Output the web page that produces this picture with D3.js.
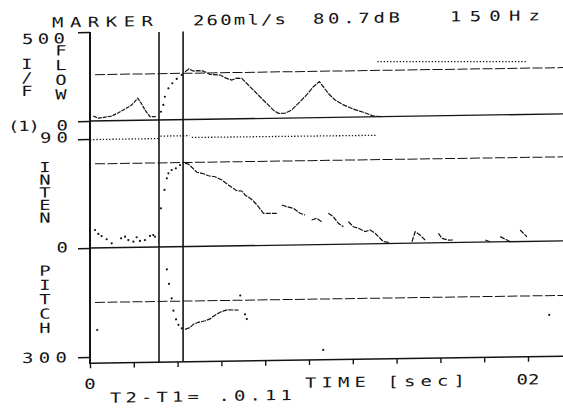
<!DOCTYPE html>
<html>
<head>
<meta charset="utf-8">
<script src="https://cdn.jsdelivr.net/npm/d3@7"></script>
<style>
body { margin: 0; background: #fff; }
</style>
</head>
<body>
<div class="chart"></div>
<script>
// readouts printed across the top
var headerText = ["MARKER", "260ml/s", "80.7dB", "150Hz"];
var panelNames = ["I/F", "FLOW", "INTEN", "PITCH"];

// time axis (seconds)
var timeTicks = [0, 0.02, 0.04, 0.06, 0.08, 0.1, 0.12, 0.14, 0.16, 0.18, 0.2];
var timeLabelAt = [0, 0.2];
var timeLabels = ["0", "02"];
var markers = [0.0315, 0.0425];
var markerNote = "T2-T1= .0.11";
var timeTitle = "TIME [sec]";

// reference levels
var refFlow = 260;
var refInten = 69.4;
var refPitch = 150;

// FLOW (ml/s)
var flowPreT = [0.0015, 0.0038, 0.0068, 0.0099, 0.0128, 0.0160, 0.0190, 0.0218, 0.0236, 0.0251, 0.0274, 0.0305];
var flowPreV = [28, 15, 20, 26, 43, 65, 86, 124, 91, 57, 19, 19];
var flowRiseT = [0.0324, 0.0335, 0.0342, 0.0358, 0.0376, 0.0396, 0.0419];
var flowRiseV = [46, 84, 130, 177, 205, 229, 251];
var flowT = [0.0434, 0.0452, 0.0472, 0.0494, 0.0517, 0.0548, 0.0594, 0.0624, 0.0647, 0.0670, 0.0693, 0.0715,
             0.0746, 0.0776, 0.0807, 0.0837, 0.0860, 0.0890, 0.0921, 0.0959, 0.0989, 0.1020, 0.1047, 0.1065,
             0.1088, 0.1119, 0.1157, 0.1202, 0.1248, 0.1294, 0.1330];
var flowV = [269, 284, 272, 274, 271, 252, 247, 228, 218, 228, 227, 199,
             160, 122, 84, 46, 27, 27, 45, 91, 128, 174, 202, 173,
             135, 97, 69, 45, 26, 4, 0];
var flowDotT = [0.1312, 0.1997];
var flowDotV = [309, 297];

// INTENSITY (dB)
var intenPreT = [0.0023, 0.0038, 0.0053, 0.0076, 0.0099, 0.0142, 0.0160, 0.0175, 0.0198, 0.0213, 0.0228, 0.0251, 0.0274, 0.0289, 0.0297];
var intenPreV = [14.8, 11.5, 9.7, 7.0, 3.6, 7.6, 8.9, 6.1, 4.7, 8.3, 5.2, 5.9, 9.2, 9.9, 8.5];
var intenRiseT = [0.0324, 0.0340, 0.0351, 0.0358, 0.0373, 0.0392, 0.0411];
var intenRiseV = [31.9, 47, 56.6, 60.7, 63.4, 64.7, 67.4];
var intenT = [0.0434, 0.0449, 0.0465, 0.0488, 0.0511, 0.0541, 0.0571, 0.0602, 0.0632, 0.0670, 0.0693, 0.0708,
              0.0731, 0.0746, 0.0769, 0.0792, 0.0853, 0.0865,
              0.0876, 0.0898, 0.0929, 0.0959, 0.0982, 0.0997,
              0.1012, 0.1035, 0.1058, 0.1073,
              0.1088, 0.1111, 0.1134, 0.1157, 0.1168,
              0.1180, 0.1202, 0.1225, 0.1256, 0.1279, 0.1302, 0.1317, 0.1340, 0.1370, 0.1420,
              0.1470, 0.1485, 0.1507, 0.1530, 0.1560,
              0.1591, 0.1607, 0.1637, 0.1660, 0.1730,
              0.1805, 0.1827, 0.1850,
              0.1873, 0.1904, 0.1919, 0.1940,
              0.1964, 0.1995];
var intenV = [68.8, 68.1, 65.4, 61.2, 60.3, 58.2, 57.3, 54.5, 50.3, 45.5, 45.2, 41.9,
              39.1, 36.8, 32, 26.5, 26.3, null,
              33.1, 31.7, 30.3, 26.1, 24.6, null,
              20.4, 21.7, 18.8, null,
              25.7, 22.8, 17.3, 14.5, null,
              18.5, 14.3, 13, 10.1, 11.4, 8.6, 5.8, 1.6, 0.7, null,
              1.2, 9.4, 6.6, 2.5, null,
              7.8, 3.6, 2.1, 2.1, null,
              1.7, 0.2, null,
              4.3, 1.4, 0, null,
              9.5, 3.9];
var inten90T = [0, 0.0313, 0.0318, 0.0322, 0.0455, 0.0460, 0.0465, 0.1305];
var inten90V = [89.5, 89.5, null, 91.5, 91.5, null, 90, 89.5];

// PITCH (Hz)
var pitchStrayT = [0.0033, 0.1065, 0.2097];
var pitchStrayV = [226, 290, 203];
var pitchFallT = [0.0351, 0.0361, 0.0373, 0.0381, 0.0393, 0.0404, 0.0419];
var pitchFallV = [62, 102, 142, 176, 200, 215, 225];
var pitchT = [0.0434, 0.0457, 0.0472, 0.0495, 0.0526, 0.0548, 0.0571, 0.0594, 0.0625, 0.0678];
var pitchV = [228, 223, 214, 209, 205, 200, 190, 182, 176, 177];
var pitchTailT = [0.0686, 0.0708, 0.0716];
var pitchTailV = [137, 189, 202];

var ink = "#141414";
var font = "'DejaVu Sans Mono', monospace";
var stretch = 1.35;

var svg = d3.select(".chart")
    .append("svg")
    .attr("width", 563)
    .attr("height", 408)
    .style("background", "#fff")

// the paper ran through the printer a little crooked
var g = svg.append("g")
    .attr("transform", "translate(90,0) skewY(-0.86) translate(-90,0)")

var x = d3.scaleLinear().domain([0, 0.2]).range([90, 528]);
var yFlow = d3.scaleLinear().domain([0, 500]).range([121, 32]);
var yInten = d3.scaleLinear().domain([0, 90]).range([248, 139]);
var yPitch = d3.scaleLinear().domain([0, 300]).range([248, 357]);

function hline(y, x1, x2, dash, w) {
    g.append("line")
        .attr("x1", x1).attr("y1", y)
        .attr("x2", x2).attr("y2", y)
        .style("stroke", ink)
        .style("stroke-width", w)
        .style("stroke-dasharray", dash)
}

// printer glyphs are wide, so each text is stretched sideways
function addText(str, x0, y0, len, anchor) {
    var t = g.append("g")
        .attr("transform", "translate(" + x0 + "," + y0 + ") scale(" + stretch + ",1)")
        .append("text")
        .text(str)
        .attr("font-family", font)
        .style("font-size", "14px")
        .attr("fill", ink)
        .attr("text-anchor", anchor || "start")
    if (len) t.attr("textLength", len / stretch).attr("lengthAdjust", "spacing");
    return t;
}

function vert(str, cx, y0, step) {
    for (var i = 0; i < str.length; i++) {
        addText(str[i], cx, y0 + i * step, 0, "middle");
    }
}

function trace(ts, vs, ys, w, dash) {
    var pts = ts.map(function (t, i) { return [t, vs[i]]; });
    var line = d3.line()
        .defined(function (d) { return d[1] != null; })
        .x(function (d) { return x(d[0]); })
        .y(function (d) { return ys(d[1]); });
    g.append("path")
        .attr("d", line(pts))
        .attr("fill", "none")
        .style("stroke", ink)
        .style("stroke-width", w)
        .style("stroke-dasharray", dash || null)
}

function dots(ts, vs, ys) {
    for (var i = 0; i < ts.length; i++) {
        g.append("circle")
            .attr("cx", x(ts[i]))
            .attr("cy", ys(vs[i]))
            .attr("r", 1.1)
            .style("fill", ink)
    }
}

// reference levels (dashed) and baselines
hline(yFlow(refFlow), 95, 580, "10,2.5", 1);
hline(yInten(refInten), 95, 580, "10,2.5", 1);
hline(yPitch(refPitch), 95, 580, "10,2.5", 1);
hline(yFlow(0), 90, 580, null, 1.3);
hline(yInten(0), 90, 580, null, 1.3);
trace(inten90T, inten90V, yInten, 1.3, "1.3,1.9");
trace(flowDotT, flowDotV, yFlow, 1.3, "1.3,1.9");

// left ticks
var leftAxes = [[yFlow, [0, 500]], [yInten, [0, 90]], [yPitch, [300]]];
leftAxes.forEach(function (a) {
    var ax = g.append("g")
        .attr("transform", "translate(90,0)")
        .call(d3.axisLeft(a[0]).tickValues(a[1]).tickSize(12).tickFormat(""))
    ax.select(".domain").remove();
    ax.selectAll("line").style("stroke", ink).style("stroke-width", 1.4);
});

// main vertical axis and time axis
g.append("line")
    .attr("x1", 90).attr("y1", 32)
    .attr("x2", 90).attr("y2", 364)
    .style("stroke", ink)
    .style("stroke-width", 2)

hline(363.3, 90, 580, null, 1.5);

var xAxis = g.append("g")
    .attr("transform", "translate(0,363.3)")
    .call(d3.axisBottom(x).tickValues(timeTicks).tickSize(5).tickFormat(""))
xAxis.select(".domain").remove();
xAxis.selectAll("line").style("stroke", ink).style("stroke-width", 1.4);

// markers
for (var i = 0; i < markers.length; i++) {
    g.append("line")
        .attr("x1", x(markers[i])).attr("y1", 33)
        .attr("x2", x(markers[i])).attr("y2", 363)
        .style("stroke", ink)
        .style("stroke-width", 1.6)
}

// data traces
trace(flowPreT, flowPreV, yFlow, 1.2, "4,1");
dots(flowRiseT, flowRiseV, yFlow);
trace(flowT, flowV, yFlow, 1.2, "5,1");

dots(intenPreT, intenPreV, yInten);
dots(intenRiseT, intenRiseV, yInten);
trace(intenT, intenV, yInten, 1.2, "5,1.2");

dots(pitchStrayT, pitchStrayV, yPitch);
dots(pitchFallT, pitchFallV, yPitch);
trace(pitchT, pitchV, yPitch, 1.2, "5,1");
dots(pitchTailT, pitchTailV, yPitch);

// header
var headX = [52, 193, 313, 450];
var headW = [101, 93, 87, 90];
for (var i = 0; i < headerText.length; i++) {
    addText(headerText[i], headX[i], 27, headW[i]);
}

// axis labels
addText("500", 22, 43, 43);
addText("(1)", 8, 130, 32);
addText("0", 68, 130, 0, "end");
addText("90", 40, 142, 28);
addText("0", 68, 252, 0, "end");
addText("300", 22, 362, 45);

vert(panelNames[0], 27, 68, 13.5);
vert(panelNames[1], 61, 55, 14.7);
vert(panelNames[2], 45, 171.5, 12.6);
vert(panelNames[3], 45, 275, 14.3);

for (var i = 0; i < timeLabelAt.length; i++) {
    addText(timeLabels[i], x(timeLabelAt[i]), i == 0 ? 389 : 391, 0, "middle");
}
addText(timeTitle, 305, 391, 160);
addText(markerNote, 110, 403, 182);
</script>
</body>
</html>
